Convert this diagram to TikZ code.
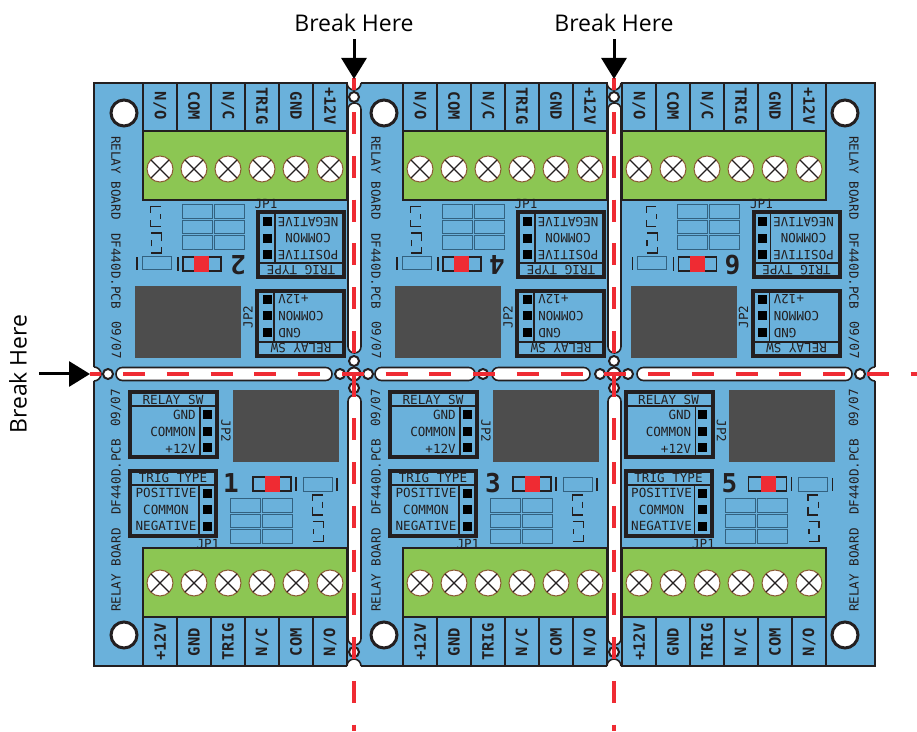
\documentclass[tikz,border=0pt]{standalone}
\usepackage{fontspec}
\usetikzlibrary{arrows.meta}
\newfontfamily\breakfont{Open Sans}
\newfontfamily\pcbfont{DejaVu Sans Mono}
\definecolor{boardblue}{HTML}{6AB1DB}
\definecolor{termgreen}{HTML}{8CC653}
\definecolor{cutred}{HTML}{EF2B33}
\definecolor{pcbline}{HTML}{231F20}
\definecolor{relaygray}{HTML}{4D4D4D}
\definecolor{padline}{HTML}{33617F}
\definecolor{screwline}{HTML}{8A5A33}
\tikzset{
  slotline/.style={draw=pcbline,fill=white,line width=1.6pt,rounded corners=6.4pt},
  drillhole/.style={draw=pcbline,fill=white,line width=2pt},
  cutline/.style={cutred,line width=3.5pt,dash pattern=on 22pt off 21.75pt},
  breakarrow/.style={line width=3pt,-{Triangle[length=21pt,width=25pt]}},
  breaklabel/.style={font=\breakfont\fontsize{23}{23}\selectfont,inner sep=0pt,transform shape},
  pcbtext/.style={font=\pcbfont\fontsize{12.6}{12.6}\selectfont,text=pcbline,inner sep=0pt,transform shape},
  tabtext/.style={pcbtext,font=\pcbfont\bfseries\fontsize{15.5}{15.5}\selectfont},
  digit/.style={pcbtext,font=\pcbfont\bfseries\fontsize{26}{26}\selectfont},
  boxframe/.style={draw=pcbline,line width=4pt},
  boxrule/.style={draw=pcbline,line width=1.6pt},
  padbox/.style={draw=padline,line width=1pt},
  partline/.style={draw=pcbline,line width=1.4pt}
}
% terminal block: centre x, angle, screw height
\newcommand{\termblock}[4]{
  \begin{scope}[shift={(#1,357)},rotate=#2]
    \draw[boxrule,fill=termgreen] (-102,-174) rectangle (102,-243);
    \draw[boxrule] (-102,-243) -- (-102,-292);
    \foreach \i/\lab in {0/+12V,1/GND,2/TRIG,3/N\slash C,4/COM,5/N\slash O}{
      \draw[boxrule] ({-68+34*\i},-243) -- ({-68+34*\i},-292);
      \node[tabtext,rotate=90] (tab#4\i) at ({-85+34*\i},-268) {\lab};
      \draw[screwline,fill=white,line width=1pt] ({-85+34*\i},#3) circle (13);
      \draw[pcbline,line width=1.3pt] ({-85+34*\i-9},#3-9) -- ({-85+34*\i+9},#3+9);
      \draw[pcbline,line width=1.3pt] ({-85+34*\i-9},#3+9) -- ({-85+34*\i+9},#3-9);
    }
  \end{scope}
}
% board parts: centre x, angle, digit, digit x
\newcommand{\relayparts}[4]{
  \begin{scope}[shift={(#1,357)},rotate=#2]
    \fill[relaygray] (-4,-16) rectangle (102,-88);
    % relay switch box
    \draw[boxframe] (-107,-18) rectangle (-20,-83);
    \draw[boxrule] (-107,-32) -- (-20,-32);
    \draw[boxrule] (-37,-32) -- (-37,-83);
    \node[pcbtext] (relaysw#3) at (-64,-26) {RELAY SW};
    \node[pcbtext,anchor=east] (gnd#3) at (-41,-41) {GND};
    \node[pcbtext,anchor=east] (common#3) at (-41,-58) {COMMON};
    \node[pcbtext,anchor=east] (plus#3) at (-41,-75) {+12V};
    \node[pcbtext,rotate=-90] (jptwo#3) at (-11,-57) {JP2};
    \foreach \y in {-41,-58,-74}{
      \fill[black] (-34.5,\y-4.5) rectangle (-25.5,\y+4.5);
    }
    % trigger type box
    \draw[boxframe] (-107,-97) rectangle (-21,-162);
    \draw[boxrule] (-107,-111) -- (-21,-111);
    \draw[boxrule] (-38,-111) -- (-38,-162);
    \node[pcbtext] (trigtype#3) at (-64,-104) {TRIG TYPE};
    \node[pcbtext] (positive#3) at (-71,-119) {POSITIVE};
    \node[pcbtext] (trigcommon#3) at (-71,-136) {COMMON};
    \node[pcbtext] (negative#3) at (-71,-152) {NEGATIVE};
    \node[pcbtext,rotate=#2] (jpone#3) at (-29,-170) {JP1};
    \foreach \y in {-119,-135,-152}{
      \fill[black] (-34.5,\y-4.5) rectangle (-25.5,\y+4.5);
    }
    \node[digit] (number#3) at (#4,-109) {#3};
    % parts with the red led
    \draw[partline] (16,-103) rectangle (54,-117);
    \fill[cutred] (28,-102) rectangle (43,-118);
    \draw[partline] (59,-103) -- (59,-117);
    \draw[padbox] (66,-104) rectangle (95,-117);
    \draw[partline] (100,-104) -- (100,-117);
    \foreach \ya/\yb in {-124/-138,-140/-153,-155/-169}{
      \draw[padbox] (-7,\ya) rectangle (23,\yb);
      \draw[padbox] (25,\ya) rectangle (55,\yb);
    }
    % brackets
    \draw[partline] (85.7,-121) -- (75.3,-121) -- (75.3,-127);
    \draw[partline] (85.7,-127.7) -- (85.7,-133.7);
    \draw[partline] (75.3,-132.7) -- (75.3,-141) -- (85.7,-141);
    \draw[partline] (76.3,-147.7) -- (86.3,-147.7) -- (86.3,-154.3);
    \draw[partline] (76.3,-155.3) -- (76.3,-160.3);
    \draw[partline] (86.3,-161) -- (86.3,-167.7) -- (76.3,-167.7);
  \end{scope}
}
% lettering along the edge: x, angle, name
\newcommand{\sidelabel}[3]{
  \begin{scope}[shift={(#1,357)},rotate=#2]
    \node[pcbtext,rotate=90,anchor=west] (relayboard#3) at (0,-238) {RELAY BOARD};
    \node[pcbtext,rotate=90,anchor=west] (pcbname#3) at (0,-141) {DF440D.PCB};
    \node[pcbtext,rotate=90,anchor=west] (datecode#3) at (0,-53) {09/07};
  \end{scope}
}
\newcommand{\notch}[3]{
  \fill[white] (#1,#2) circle (7);
  \draw[pcbline,line width=1.6pt] (#1,#2) ++(#3:7) arc (#3:#3+180:7);
}
\begin{document}
\begin{tikzpicture}[x=1pt,y=1pt]
  \useasboundingbox (0,0) rectangle (917,731);
  \draw[draw=pcbline,fill=boardblue,line width=2pt] (94,65) rectangle (875,648);
  % slots
  \draw[slotline] (348,378) rectangle (361,628);
  \draw[slotline] (348,86) rectangle (361,336);
  \draw[slotline] (608,378) rectangle (621,628);
  \draw[slotline] (608,86) rectangle (621,336);
  \draw[slotline] (116,350.5) rectangle (332,363.5);
  \draw[slotline] (375,350.5) rectangle (475,363.5);
  \draw[slotline] (492,350.5) rectangle (590,363.5);
  \draw[slotline] (637,350.5) rectangle (852,363.5);
  % drill holes
  \foreach \x in {354,614}{
    \foreach \y in {634,370,343,79}{
      \draw[drillhole] (\x,\y) circle (5);
    }
    \draw[drillhole] (\x,357) circle (6.5);
    \draw[drillhole] (\x-14,357) circle (5);
    \draw[drillhole] (\x+14,357) circle (5);
  }
  \draw[drillhole] (108,357) circle (5);
  \draw[drillhole] (860,357) circle (5);
  \draw[drillhole] (483,357) circle (5);
  \foreach \x in {124,384,845}{
    \draw[drillhole,line width=3pt] (\x,618) circle (13);
    \draw[drillhole,line width=3pt] (\x,96) circle (13);
  }
  \notch{354}{648}{180}
  \notch{614}{648}{180}
  \notch{354}{65}{0}
  \notch{614}{65}{0}
  \notch{94}{357}{-90}
  \notch{875}{357}{90}
  % the six boards
  \termblock{245}{0}{-209}{a}
  \termblock{505}{0}{-209}{b}
  \termblock{724}{0}{-209}{c}
  \termblock{245}{180}{-205}{d}
  \termblock{505}{180}{-205}{e}
  \termblock{724}{180}{-205}{f}
  \relayparts{237}{0}{1}{-6}
  \relayparts{497}{0}{3}{-4}
  \relayparts{732.5}{0}{5}{-3}
  \relayparts{237}{180}{2}{-1}
  \relayparts{497}{180}{4}{0}
  \relayparts{732.5}{180}{6}{0}
  \sidelabel{116}{0}{a}
  \sidelabel{376}{0}{b}
  \sidelabel{854}{0}{c}
  \sidelabel{116}{180}{d}
  \sidelabel{376}{180}{e}
  \sidelabel{854}{180}{f}
  % cut lines
  \draw[cutline,dash phase=9.7pt] (354,653) -- (354,0);
  \draw[cutline,dash phase=9.7pt] (614,653) -- (614,0);
  \draw[cutline,dash phase=10.75pt] (90,357) -- (917,357);
  % arrows
  \node[breaklabel,outer sep=7pt] (breakA) at (354,708) {Break Here};
  \node[breaklabel,outer sep=7pt] (breakB) at (614,708) {Break Here};
  \node[breaklabel,rotate=90,outer sep=12pt] (breakC) at (18,357) {Break Here};
  \coordinate (cutA) at (354,652);
  \coordinate (cutB) at (614,652);
  \coordinate (cutC) at (90,357);
  \draw[breakarrow] (breakA) -- (cutA);
  \draw[breakarrow] (breakB) -- (cutB);
  \draw[breakarrow] (breakC) -- (cutC);
\end{tikzpicture}
\end{document}
